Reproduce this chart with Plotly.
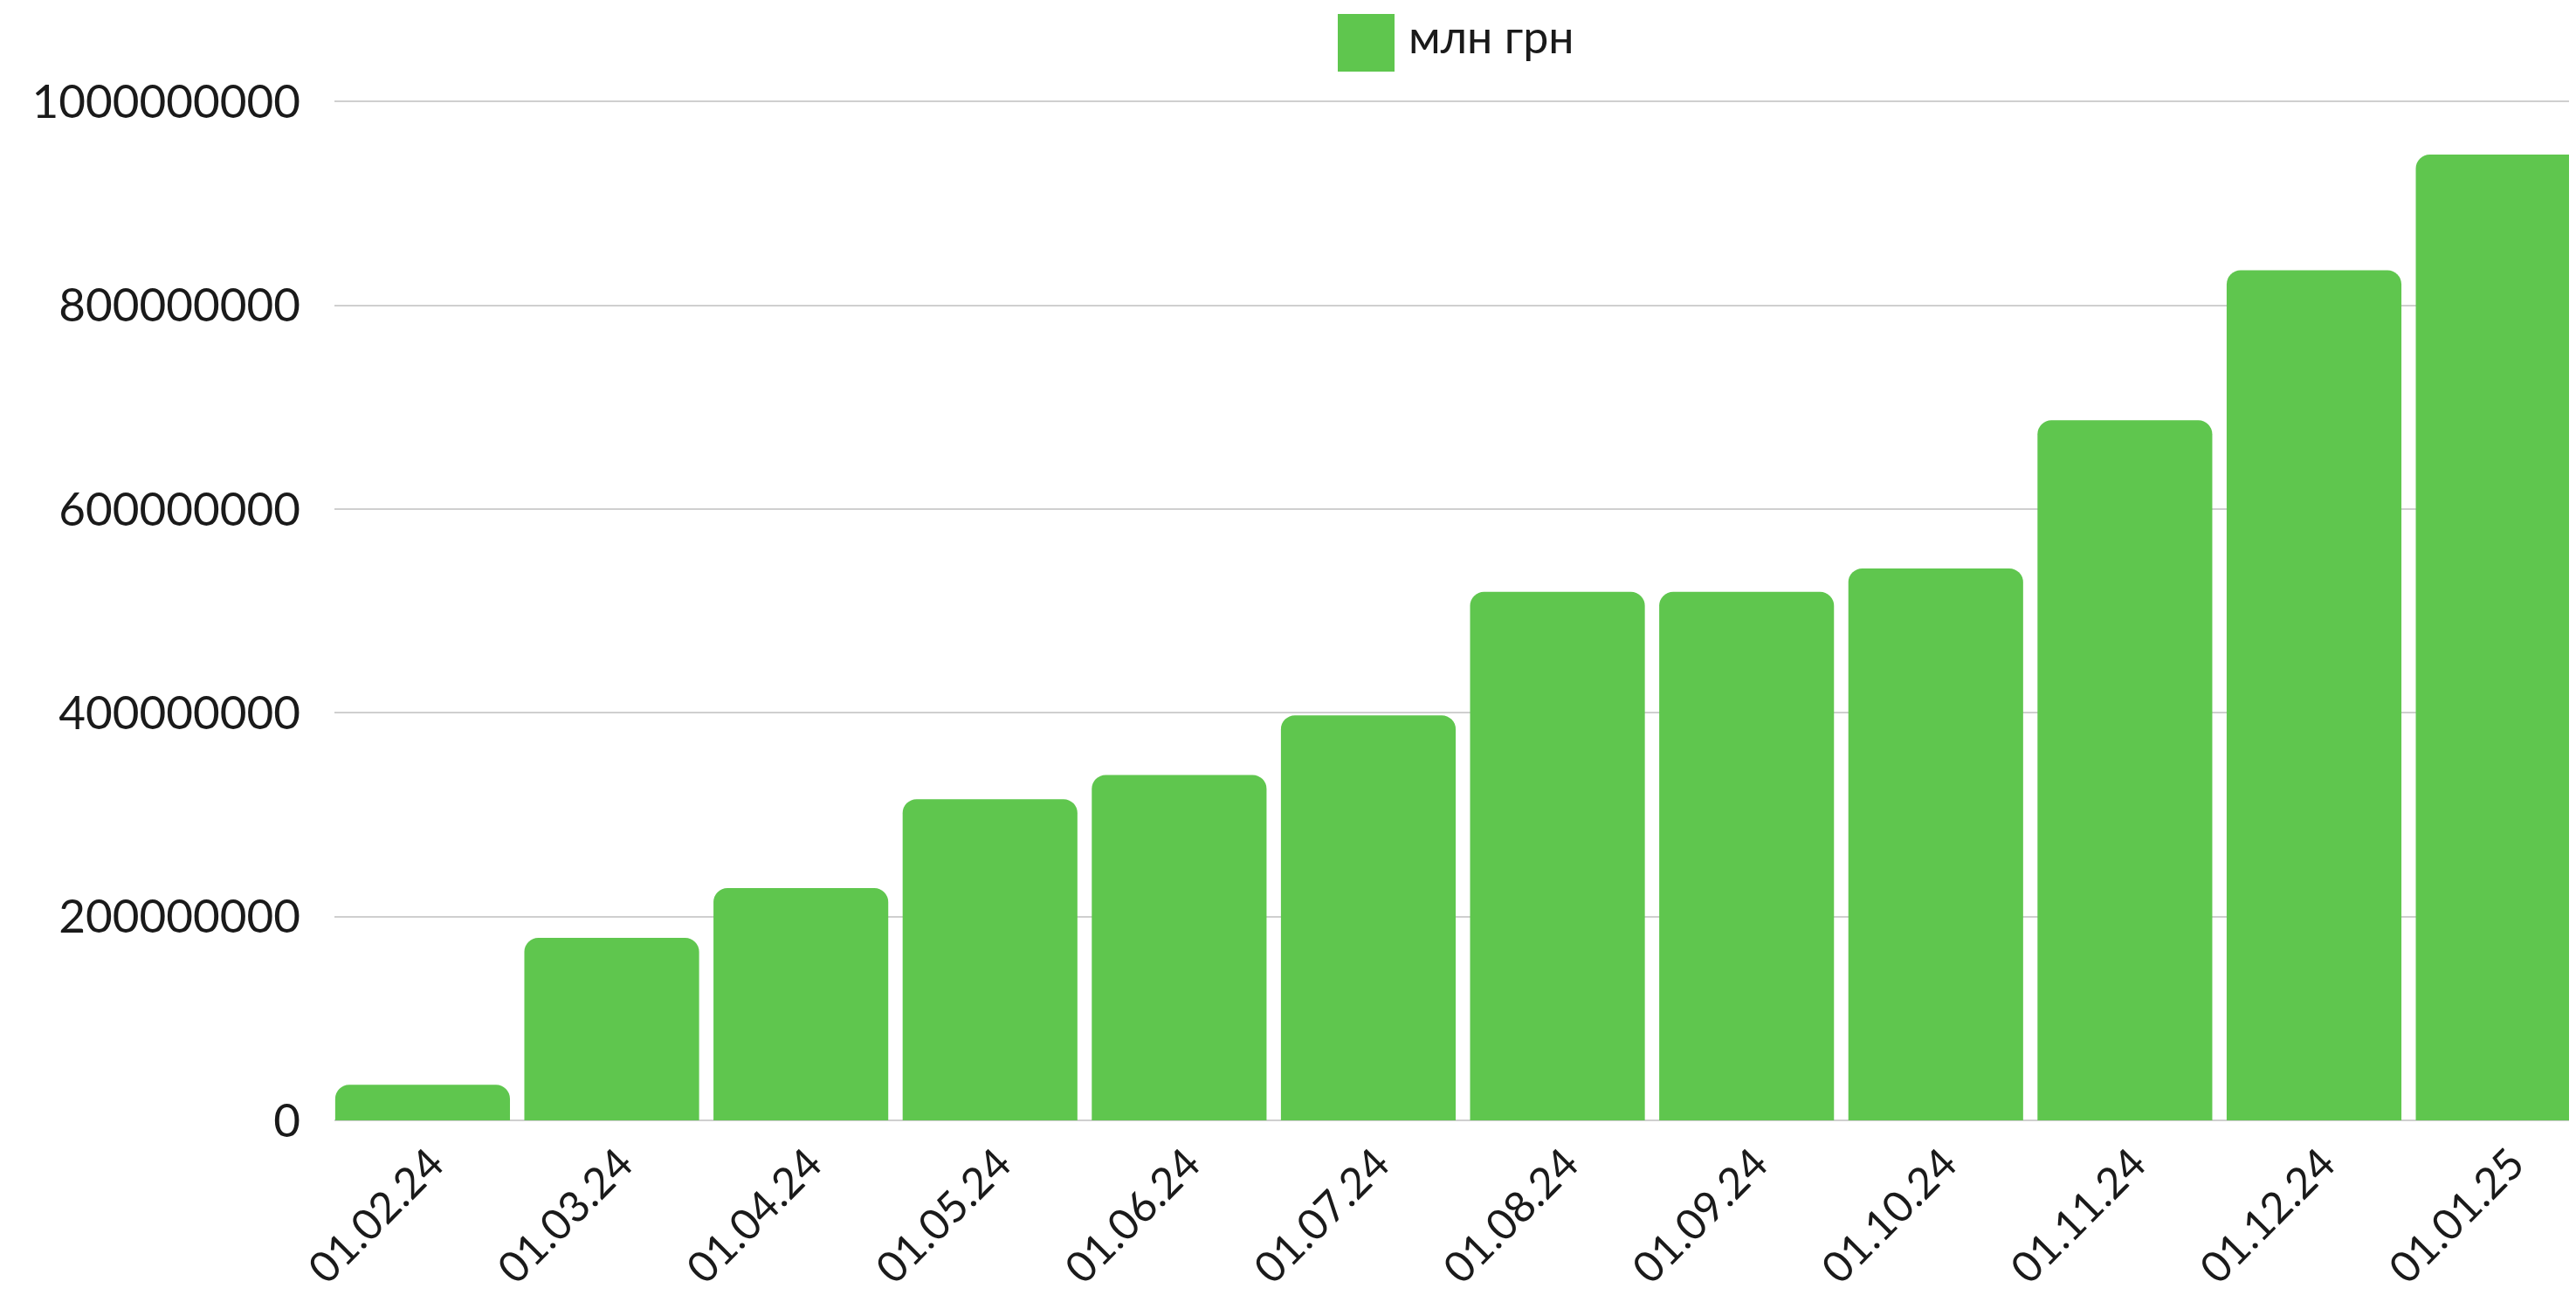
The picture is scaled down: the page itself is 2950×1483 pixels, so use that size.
import plotly.graph_objects as go

# ---- data ----
categories = ["01.02.24", "01.03.24", "01.04.24", "01.05.24", "01.06.24", "01.07.24",
              "01.08.24", "01.09.24", "01.10.24", "01.11.24", "01.12.24", "01.01.25"]
values = [34.9e6, 179.1e6, 227.9e6, 315.3e6, 339.1e6, 397.6e6,
          518.7e6, 518.7e6, 541.8e6, 687.2e6, 834.4e6, 948.0e6]
series_name = "млн грн"
y_tickvals = [0, 200000000, 400000000, 600000000, 800000000, 1000000000]
y_ticktext = ["0", "200000000", "400000000", "600000000", "800000000", "1000000000"]

# ---- style ----
OFF = 8                      # page body margin in the browser
W, H = 2950 - OFF, 1483 - OFF
ML, MR, MT, MB = 383 - OFF, 0, 106, 200
YMAX = 1.002e9
GREEN = "#5FC64E"
TEXT = "#1a1a1a"
GRID = "#cfcfcf"
FONT = "Lato, 'Open Sans', sans-serif"
FS = 53
FSX = 49
FSL = 52

fig = go.Figure()
fig.add_trace(go.Bar(
    x=categories, y=values, name=series_name,
    marker=dict(color=GREEN, line=dict(width=0), cornerradius=16),
    showlegend=False,
))

pw = W - ML - MR
ph = H - MT - MB

# screen pixel -> paper coordinate helpers (screen includes body offset)
def px_x(px):
    return (px - OFF - ML) / pw

def px_y(py):
    return (H - MB - (py - OFF)) / ph

# legend swatch + label (drawn as layout items to get a large swatch)
fig.add_shape(type="rect", xref="paper", yref="paper",
              x0=px_x(1532), x1=px_x(1597), y0=px_y(82), y1=px_y(16),
              fillcolor=GREEN, line=dict(width=0))
fig.add_annotation(text=series_name, xref="paper", yref="paper",
                   x=px_x(1612), y=px_y(41), xanchor="left", yanchor="middle",
                   showarrow=False, borderpad=0,
                   font=dict(family=FONT, size=FSL, color=TEXT))

fig.update_layout(
    width=W, height=H,
    margin=dict(l=ML, r=MR, t=MT, b=MB, pad=0, autoexpand=False),
    paper_bgcolor="white", plot_bgcolor="white",
    bargap=0.076,
    font=dict(family=FONT, size=FS, color=TEXT),
    showlegend=False,
)
fig.update_xaxes(
    type="category",
    range=[-0.466, 11.385],
    tickangle=-45,
    showgrid=False, showline=False, zeroline=False,
    ticks="", tickfont=dict(family=FONT, size=FSX, color=TEXT),
    ticklabelstandoff=10, ticklabelshift=10,
)
fig.update_yaxes(
    range=[0, YMAX],
    tickvals=y_tickvals, ticktext=y_ticktext,
    showgrid=True, gridcolor=GRID, gridwidth=2,
    zeroline=True, zerolinecolor=GRID, zerolinewidth=2,
    showline=False, ticks="",
    ticklabelstandoff=38,
    tickfont=dict(family=FONT, size=FS, color=TEXT),
)

fig.write_html("out.html")
